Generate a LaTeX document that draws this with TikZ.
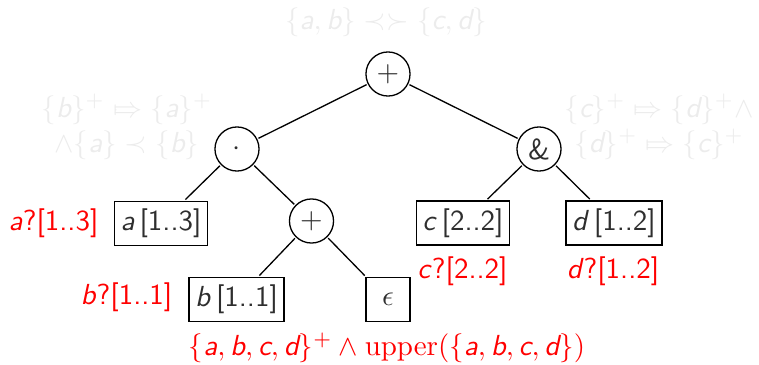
\documentclass[tikz,border=0pt]{standalone}
\usepackage{xcolor}
\definecolor{txt}{gray}{0.18}
\definecolor{faint}{gray}{0.925}
\newcommand\sv[1]{\textsf{\itshape #1}}
\newcommand\Mto{\mathrel{\mapstochar\Rightarrow}}
\begin{document}
\begin{tikzpicture}[x=1pt,y=-1pt,
  every node/.style={scale=2.9, font=\sffamily, text=txt},
  op/.style={circle, draw=black, line width=1.3pt, minimum size=15.2pt, inner sep=0pt},
  leaf/.style={rectangle, draw=black, line width=1.3pt, minimum height=15.2pt, minimum width=15.2pt, inner sep=2.1pt},
  note/.style={text=red},
  ghost/.style={text=faint, align=center},
  edge/.style={draw=black, line width=1.3pt}]
\useasboundingbox (0,0) rectangle (759,364);
% operators
\node[op] (root) at (388,74) {$+$};
\node[op] (dot) at (237,149) {$\cdot$};
\node[op] (amp) at (539,149) {\&};
\node[op] (plus) at (311.5,221) {$+$};
% leaves
\node[leaf] (abox) at (161,223.5) {\sv{a}\,[1..3]};
\node[leaf] (cbox) at (463,223) {\sv{c}\,[2..2]};
\node[leaf] (dbox) at (614,223) {\sv{d}\,[1..2]};
\node[leaf] (bbox) at (236.5,299.5) {\sv{b}\,[1..1]};
\node[leaf] (eps) at (388,299.5) {$\epsilon$};
% edges
\draw[edge] (root) -- (dot);
\draw[edge] (root) -- (amp);
\draw[edge] (dot) -- (abox);
\draw[edge] (dot) -- (plus);
\draw[edge] (plus) -- (bbox);
\draw[edge] (plus) -- (eps);
\draw[edge] (amp) -- (cbox);
\draw[edge] (amp) -- (dbox);
% red annotations
\node[note] (la) at (53.5,223) {\sv{a}?[1..3]};
\node[note] (lb) at (126.5,297) {\sv{b}?[1..1]};
\node[note] (lc) at (462.5,271) {\sv{c}?[2..2]};
\node[note] (ld) at (613,271) {\sv{d}?[1..2]};
\node[note] (lbot) at (387,348) {$\{\sv{a},\sv{b},\sv{c},\sv{d}\}^+\wedge\mathrm{upper}(\{\sv{a},\sv{b},\sv{c},\sv{d}\})$};
% faint annotations
\node[ghost] (gtop) at (386,22) {$\{\sv{a},\sv{b}\}\prec\succ\{\sv{c},\sv{d}\}$};
\node[ghost] (gleft) at (127,127) {$\{\sv{b}\}^+\Mto\{\sv{a}\}^+$\\$\wedge\{\sv{a}\}\prec\{\sv{b}\}$};
\node[ghost] (gright) at (659,127) {$\{\sv{c}\}^+\Mto\{\sv{d}\}^+\wedge$\\$\{\sv{d}\}^+\Mto\{\sv{c}\}^+$};
\end{tikzpicture}
\end{document}
